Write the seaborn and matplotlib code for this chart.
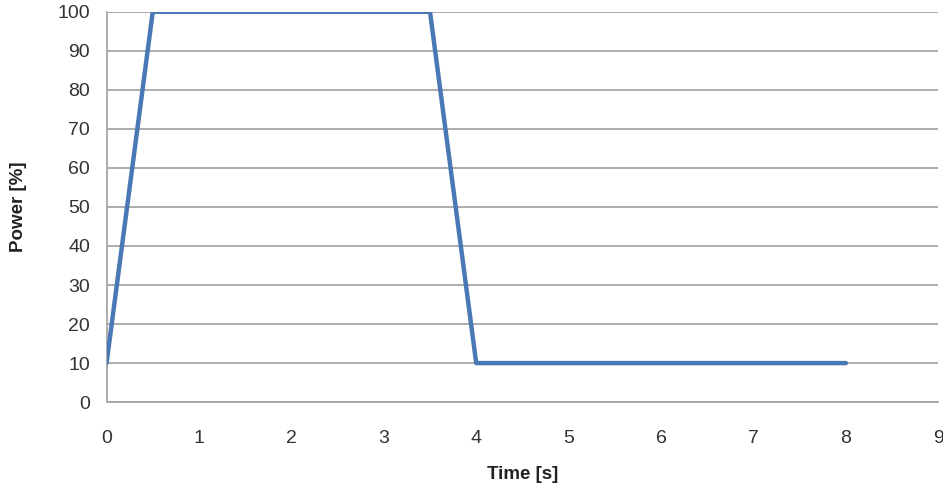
import numpy as np
import pandas as pd
import matplotlib.pyplot as plt
import seaborn as sns

# ── Data ──────────────────────────────
time_s = [0, 0.5, 3.5, 4, 8]
power_pct = [10, 100, 100, 10, 10]

df = pd.DataFrame({'Time': time_s, 'Power': power_pct})

# ── Plot ──────────────────────────────
sns.set_style('white')
plt.rcParams['font.family'] = ['Liberation Sans', 'DejaVu Sans']

fig = plt.figure(figsize=(9.43, 4.91), dpi=100)
ax = fig.add_axes([0.113, 0.181, 0.882, 0.795])

sns.lineplot(data=df, x='Time', y='Power', ax=ax,
             color='#4a78b4', linewidth=3.2, zorder=3)

ax.set_xlim(0, 9)
ax.set_ylim(0, 100)
ax.set_xticks(range(0, 10))
ax.set_yticks(range(0, 101, 10))

ax.yaxis.grid(True, color='#a6a6a6', linewidth=1.3)
ax.xaxis.grid(False)
ax.set_axisbelow(True)

for side in ['top', 'right']:
    ax.spines[side].set_visible(False)
for side in ['left', 'bottom']:
    ax.spines[side].set_color('#a6a6a6')
    ax.spines[side].set_linewidth(1.3)

ax.tick_params(axis='both', length=0, labelsize=14,
               labelcolor='#333333')
ax.tick_params(axis='y', pad=12)
ax.tick_params(axis='x', pad=20)

ax.set_xlabel('Time [s]', fontsize=13.5, fontweight='bold',
              color='#222222', labelpad=14)
ax.set_ylabel('Power [%]', fontsize=13.5, fontweight='bold',
              color='#222222', labelpad=22)

plt.savefig('out.png', dpi=100, facecolor='white')
plt.close()
